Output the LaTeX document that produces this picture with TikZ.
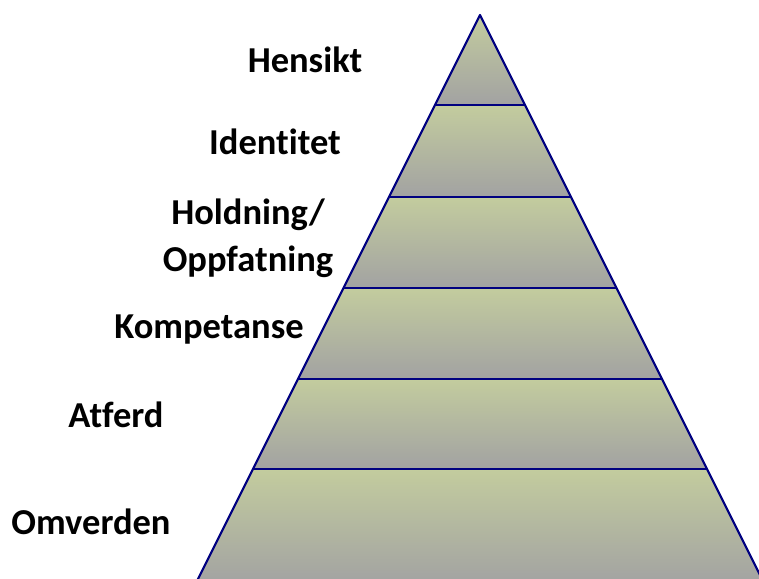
\documentclass[tikz,border=0pt]{standalone}
\usepackage{fontspec}
\setmainfont[Ligatures=NoCommon]{Carlito}
\definecolor{bandtop}{HTML}{C3CC9E}
\definecolor{bandbot}{HTML}{A2A2A2}
\definecolor{edgeblue}{HTML}{000080}
\begin{document}
\begin{tikzpicture}[x=1pt,y=-1pt,
  band/.style={top color=bandtop,bottom color=bandbot,draw=none},
  edge/.style={draw=edgeblue,line width=2.2pt,line join=round},
  lbl/.style={font=\fontsize{36.5}{47}\selectfont\bfseries,align=center,inner sep=0pt}]
\useasboundingbox (0,0) rectangle (759,578);
\clip (0,0) rectangle (759,578);
% pyramid bands: apex at (480,15), sides with slope 1/2
\foreach \a/\b in {15/105,105/197,197/288,288/379,379/469,469/585}
  \fill[band] ({480-(\a-15)/2},\a) -- ({480+(\a-15)/2},\a)
    -- ({480+(\b-15)/2},\b) -- ({480-(\b-15)/2},\b) -- cycle;
% outline and band dividers
\coordinate (apex) at (480,15);
\coordinate (bl) at ({480-(600-15)/2},600);
\coordinate (br) at ({480+(600-15)/2},600);
\draw[edge] (bl) -- (apex) -- (br);
\foreach \y in {105,197,288,379,469}
  \draw[edge] ({480-(\y-15)/2},\y) -- ({480+(\y-15)/2},\y);
% level labels
\node[lbl] (hensikt) at (305,60) {Hensikt};
\node[lbl] (identitet) at (275,142) {Identitet};
\node[lbl] (holdning) at (248,238) {Holdning/\\Oppfatning};
\node[lbl] (kompetanse) at (209,330) {Kompetanse};
\node[lbl] (atferd) at (116,415) {Atferd};
\node[lbl] (omverden) at (91,522) {Omverden};
\end{tikzpicture}
\end{document}
